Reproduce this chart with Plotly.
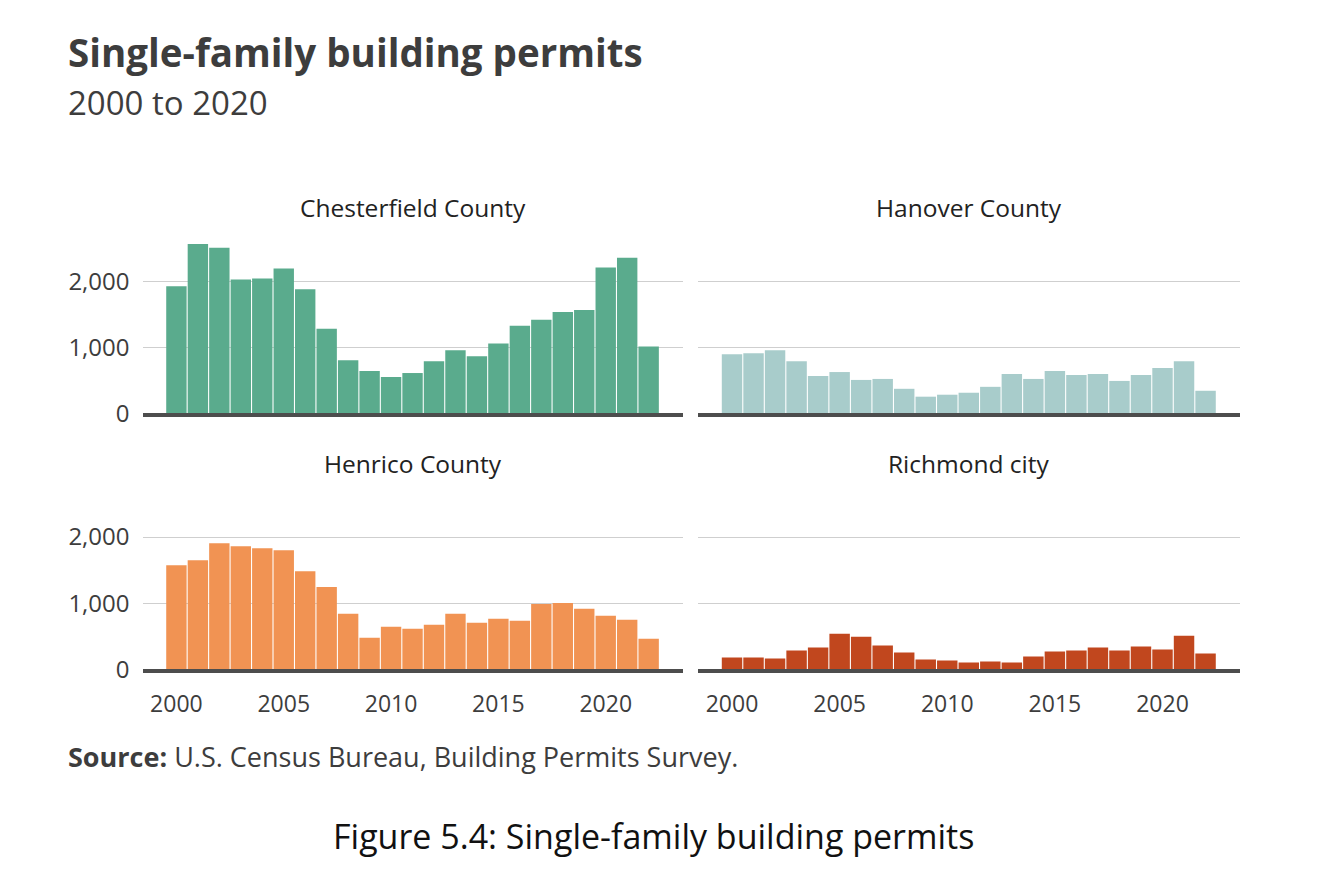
import plotly.graph_objects as go

years = list(range(2000, 2023))
chesterfield = [1930, 2575, 2515, 2035, 2050, 2200, 1885, 1285, 805, 640, 550, 610,
                790, 955, 865, 1060, 1330, 1420, 1540, 1570, 2215, 2365, 1015]
hanover = [895, 910, 955, 790, 565, 625, 505, 520, 370, 250, 280, 310,
           400, 595, 520, 640, 580, 595, 490, 580, 685, 790, 340]
henrico = [1575, 1650, 1905, 1860, 1830, 1800, 1485, 1245, 840, 480, 645, 615,
           675, 840, 705, 765, 735, 990, 1005, 915, 810, 750, 465]
richmond = [180, 180, 165, 285, 330, 540, 495, 360, 255, 150, 135, 105,
            120, 105, 195, 270, 285, 330, 285, 345, 300, 510, 240]

panels = ["Chesterfield County", "Hanover County", "Henrico County", "Richmond city"]
series = [chesterfield, hanover, henrico, richmond]
colors = ["#5aab8d", "#a8cccb", "#f19353", "#c1471e"]
ytick_vals = [0, 1000, 2000]
xtick_vals = [2000, 2005, 2010, 2015, 2020]

W, H = 1342, 888
HMAP = 877.0
FONT = "Open Sans"
TXT = "#3d3d3d"

def px_x(p):
    return p / W

def px_y(p):
    return 1 - p / HMAP

xdoms = [[px_x(142.5), px_x(683)], [px_x(698), px_x(1240)]]
ydoms = [[px_y(415), px_y(415 - 66 * 2.7)], [px_y(672.5), px_y(672.5 - 66.5 * 2.7)]]

fig = go.Figure()
for i, (name, vals, col) in enumerate(zip(panels, series, colors)):
    r, c = divmod(i, 2)
    n = i + 1
    xa = "x" if n == 1 else f"x{n}"
    ya = "y" if n == 1 else f"y{n}"
    fig.add_trace(go.Bar(x=years, y=vals, marker=dict(color=col, line=dict(width=0)),
                         xaxis=xa, yaxis=ya, showlegend=False, name=name))
    xkey = "xaxis" if n == 1 else f"xaxis{n}"
    ykey = "yaxis" if n == 1 else f"yaxis{n}"
    fig.update_layout({
        xkey: dict(domain=xdoms[c], anchor=ya, range=[1998.42, 2023.6],
                   showline=True, linecolor="#4d4d4d", linewidth=4,
                   showgrid=False, zeroline=False,
                   tickvals=xtick_vals, showticklabels=(r == 1),
                   ticks="", ticklabelstandoff=11,
                   tickfont=dict(family=FONT, size=23, color=TXT)),
        ykey: dict(domain=ydoms[r], anchor=xa, range=[0, 2700],
                   tickvals=ytick_vals, tickformat=",", showticklabels=(c == 0),
                   showgrid=True, gridcolor="#cfcfcf", gridwidth=1,
                   zeroline=False, showline=False, ticks="",
                   ticklabelstandoff=12,
                   tickfont=dict(family=FONT, size=24, color=TXT)),
    })
    cx = (xdoms[c][0] + xdoms[c][1]) / 2
    ty = 208.5 if r == 0 else 466
    fig.add_annotation(text=name, x=cx, y=px_y(ty), xref="paper", yref="paper",
                       xanchor="center", yanchor="middle", showarrow=False,
                       font=dict(family=FONT, size=24.5, color="#222222"))

fig.add_annotation(text="<b>Single-family building permits</b>", x=px_x(66), y=px_y(52),
                   xref="paper", yref="paper", xanchor="left", yanchor="middle",
                   showarrow=False, font=dict(family=FONT, size=38.5, color=TXT))
fig.add_annotation(text="2000 to 2020", x=px_x(66), y=px_y(103),
                   xref="paper", yref="paper", xanchor="left", yanchor="middle",
                   showarrow=False, font=dict(family=FONT, size=33, color=TXT))
fig.add_annotation(text="<b>Source:</b> U.S. Census Bureau, Building Permits Survey.",
                   x=px_x(66), y=px_y(760), xref="paper", yref="paper",
                   xanchor="left", yanchor="middle", showarrow=False,
                   font=dict(family=FONT, size=27, color=TXT))
fig.add_annotation(text="Figure 5.4: Single-family building permits",
                   x=px_x(653), y=px_y(840), xref="paper", yref="paper",
                   xanchor="center", yanchor="middle", showarrow=False,
                   font=dict(family=FONT, size=34, color="#111111"))

fig.update_layout(width=W, height=H, margin=dict(l=0, r=0, t=0, b=0),
                  paper_bgcolor="white", plot_bgcolor="white", bargap=0.05)

fig.write_html("out.html")
